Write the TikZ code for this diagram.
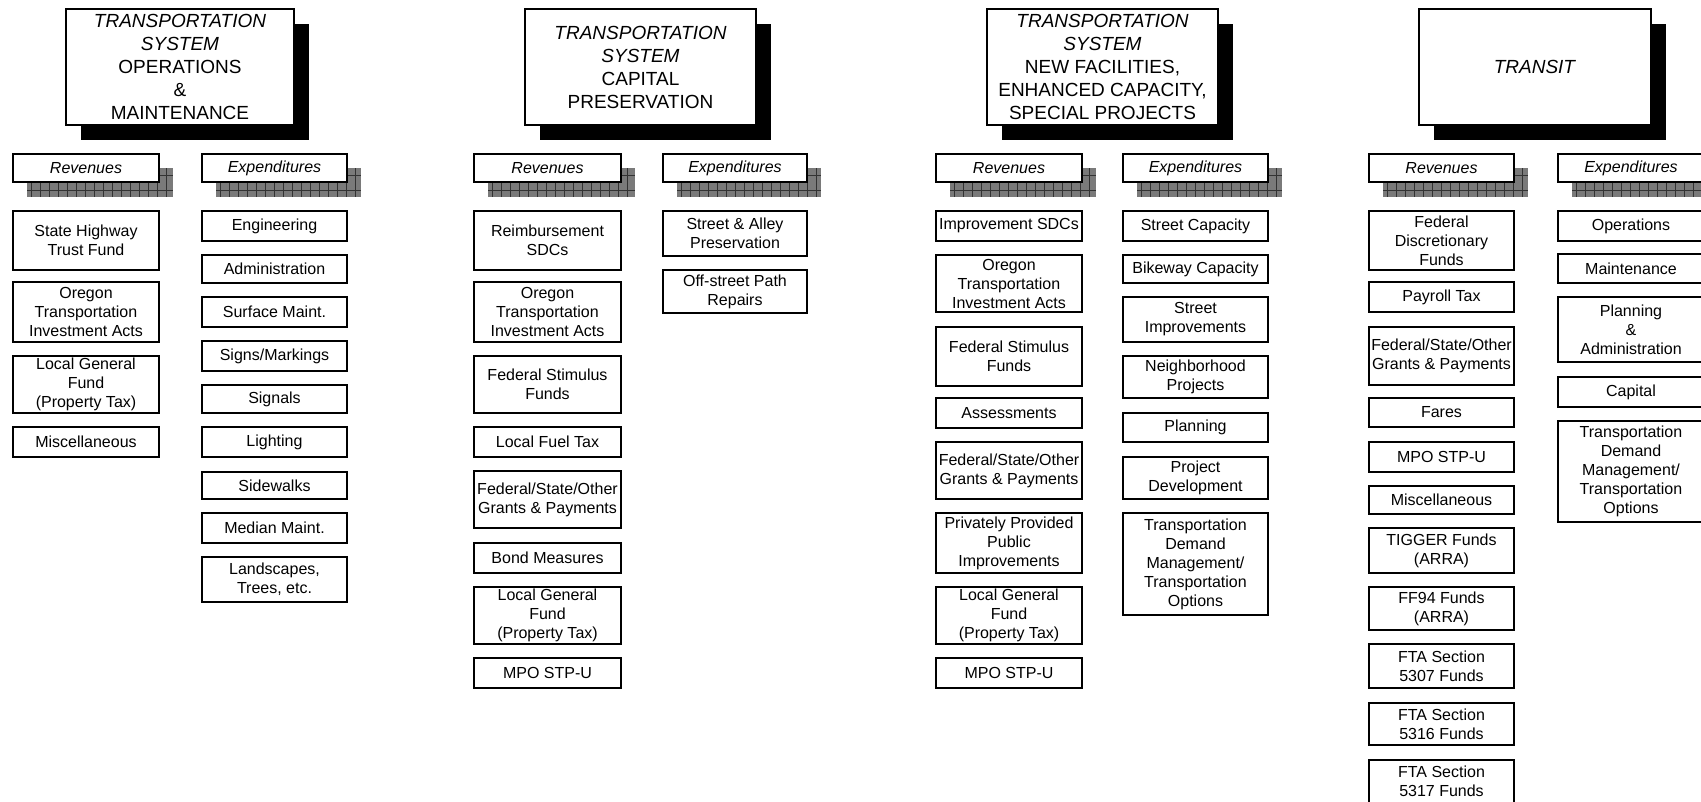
\documentclass[tikz,border=0pt]{standalone}
\usepackage{fontspec}
\setmainfont{Liberation Sans}
\usetikzlibrary{shadows}
\tikzset{
  boxstyle/.style={draw=black, line width=1.6pt, fill=white, inner sep=0pt, align=center,
    font=\fontsize{16}{19}\selectfont},
  hdrstyle/.style={boxstyle, font=\fontsize{16}{19}\selectfont\itshape},
  titlestyle/.style={draw=black, line width=1.8pt, fill=white, inner sep=0pt, align=center,
    font=\fontsize{19}{23}\selectfont,
    drop shadow={shadow xshift=15pt, shadow yshift=-15pt, fill=black, opacity=1}},
  gridshade/.style={fill=black!52},
  gridline/.style={draw=black!80, line width=0.9pt}
}
% generic box: [style]{name}{x1}{y1}{x2}{y2}{text}
\newcommand\bx[7][boxstyle]{%
  \node[#1, minimum width={(#5-#3)*1pt}, minimum height={(#6-#4)*1pt}]
    (#2) at ({(#3+#5)/2},{(#4+#6)/2}) {#7};}
% header with grid shadow
\newcommand\hdr[6]{%
  \begin{scope}
    \clip (#2+14,#3+14) rectangle (#4+14,#5+15);
    \fill[gridshade] (#2+14,#3+14) rectangle (#4+14,#5+15);
    \foreach \k in {0,...,17}{\draw[gridline] (#2+18+\k*9,#3+14) -- (#2+18+\k*9,#5+15);}
    \draw[gridline] (#2+14,#3+21) -- (#4+14,#3+21);
    \draw[gridline] (#2+14,#5+8) -- (#4+14,#5+8);
  \end{scope}
  \bx[hdrstyle]{#1}{#2}{#3}{#4}{#5}{#6}}
\begin{document}
\begin{tikzpicture}[x=1pt,y=-1pt]
\useasboundingbox (0,0) rectangle (1701,801);
\fill[white] (0,0) rectangle (1701,801);

% ---------------- Panel 1 ----------------
\bx[titlestyle]{t1}{66}{9}{294}{125}{\textit{TRANSPORTATION}\\\textit{SYSTEM}\\OPERATIONS\\\&\\MAINTENANCE}
\hdr{r1h}{13}{154}{159}{182}{Revenues}
\hdr{e1h}{202}{154}{347}{182}{Expenditures}
\bx{r1a}{13}{211}{159}{270}{State Highway\\Trust Fund}
\bx{r1b}{13}{282}{159}{342}{Oregon\\Transportation\\Investment Acts}
\bx{r1c}{13}{356}{159}{413}{Local General\\Fund\\(Property Tax)}
\bx{r1d}{13}{427}{159}{457}{Miscellaneous}
\bx{e1a}{202}{211}{347}{241}{Engineering}
\bx{e1b}{202}{255}{347}{283}{Administration}
\bx{e1c}{202}{297}{347}{327}{Surface Maint.}
\bx{e1d}{202}{341}{347}{371}{Signs/Markings}
\bx{e1e}{202}{385}{347}{413}{Signals}
\bx{e1f}{202}{427}{347}{457}{Lighting}
\bx{e1g}{202}{472}{347}{499}{Sidewalks}
\bx{e1h}{202}{513}{347}{543}{Median Maint.}
\bx{e1i}{202}{557}{347}{602}{Landscapes,\\Trees, etc.}

% ---------------- Panel 2 ----------------
\bx[titlestyle]{t2}{525}{9}{756}{125}{\textit{TRANSPORTATION}\\\textit{SYSTEM}\\CAPITAL\\PRESERVATION}
\hdr{r2h}{474}{154}{621}{182}{Revenues}
\hdr{e2h}{663}{154}{807}{182}{Expenditures}
\bx{r2a}{474}{211}{621}{270}{Reimbursement\\SDCs}
\bx{r2b}{474}{282}{621}{342}{Oregon\\Transportation\\Investment Acts}
\bx{r2c}{474}{356}{621}{413}{Federal Stimulus\\Funds}
\bx{r2d}{474}{427}{621}{457}{Local Fuel Tax}
\bx{r2e}{474}{471}{621}{528}{Federal/State/Other\\Grants \& Payments}
\bx{r2f}{474}{543}{621}{573}{Bond Measures}
\bx{r2g}{474}{587}{621}{644}{Local General\\Fund\\(Property Tax)}
\bx{r2h}{474}{658}{621}{688}{MPO STP-U}
\bx{e2a}{663}{211}{807}{256}{Street \& Alley\\Preservation}
\bx{e2b}{663}{270}{807}{313}{Off-street Path\\Repairs}

% ---------------- Panel 3 ----------------
\bx[titlestyle]{t3}{987}{9}{1218}{125}{\textit{TRANSPORTATION}\\\textit{SYSTEM}\\NEW FACILITIES,\\ENHANCED CAPACITY,\\SPECIAL PROJECTS}
\hdr{r3h}{936}{154}{1082}{182}{Revenues}
\hdr{e3h}{1123}{154}{1268}{182}{Expenditures}
\bx{r3a}{936}{211}{1082}{241}{Improvement SDCs}
\bx{r3b}{936}{255}{1082}{312}{Oregon\\Transportation\\Investment Acts}
\bx{r3c}{936}{327}{1082}{386}{Federal Stimulus\\Funds}
\bx{r3d}{936}{398}{1082}{428}{Assessments}
\bx{r3e}{936}{442}{1082}{499}{Federal/State/Other\\Grants \& Payments}
\bx{r3f}{936}{513}{1082}{573}{Privately Provided\\Public\\Improvements}
\bx{r3g}{936}{587}{1082}{644}{Local General\\Fund\\(Property Tax)}
\bx{r3h}{936}{658}{1082}{688}{MPO STP-U}
\bx{e3a}{1123}{211}{1268}{241}{Street Capacity}
\bx{e3b}{1123}{255}{1268}{283}{Bikeway Capacity}
\bx{e3c}{1123}{297}{1268}{342}{Street\\Improvements}
\bx{e3d}{1123}{356}{1268}{398}{Neighborhood\\Projects}
\bx{e3e}{1123}{413}{1268}{442}{Planning}
\bx{e3f}{1123}{457}{1268}{499}{Project\\Development}
\bx{e3g}{1123}{513}{1268}{615}{Transportation\\Demand\\Management/\\Transportation\\Options}

% ---------------- Panel 4 ----------------
\bx[titlestyle]{t4}{1419}{9}{1651}{125}{\textit{TRANSIT}}
\hdr{r4h}{1369}{154}{1514}{182}{Revenues}
\hdr{e4h}{1558}{154}{1704}{182}{Expenditures}
\bx{r4a}{1369}{211}{1514}{270}{Federal\\Discretionary\\Funds}
\bx{r4b}{1369}{282}{1514}{312}{Payroll Tax}
\bx{r4c}{1369}{327}{1514}{385}{Federal/State/Other\\Grants \& Payments}
\bx{r4d}{1369}{398}{1514}{427}{Fares}
\bx{r4e}{1369}{442}{1514}{472}{MPO STP-U}
\bx{r4f}{1369}{486}{1514}{514}{Miscellaneous}
\bx{r4g}{1369}{528}{1514}{573}{TIGGER Funds\\(ARRA)}
\bx{r4h}{1369}{587}{1514}{630}{FF94 Funds\\(ARRA)}
\bx{r4i}{1369}{644}{1514}{688}{FTA Section\\5307 Funds}
\bx{r4j}{1369}{703}{1514}{745}{FTA Section\\5316 Funds}
\bx{r4k}{1369}{760}{1514}{803}{FTA Section\\5317 Funds}
\bx{e4a}{1558}{211}{1704}{241}{Operations}
\bx{e4b}{1558}{254}{1704}{283}{Maintenance}
\bx{e4c}{1558}{297}{1704}{362}{Planning\\\&\\Administration}
\bx{e4d}{1558}{377}{1704}{407}{Capital}
\bx{e4e}{1558}{421}{1704}{522}{Transportation\\Demand\\Management/\\Transportation\\Options}
\end{tikzpicture}
\end{document}
